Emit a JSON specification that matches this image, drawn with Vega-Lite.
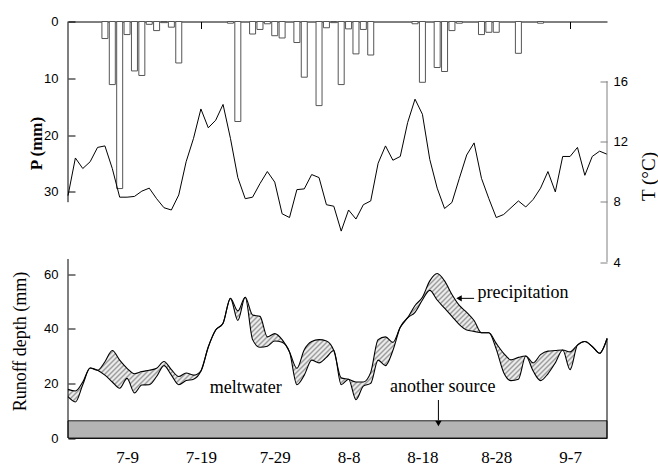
{
"$schema": "https://vega.github.io/schema/vega-lite/v6.json",
"width": 539, "height": 416.5,
"autosize": {"type": "none"},
"padding": {"left": 68, "top": 21.5, "right": 51, "bottom": 28},
"background": "white",
"config": {"view": {"stroke": null}, "axis": {"grid": false, "domainColor": "black", "tickColor": "black", "labelColor": "black", "titleColor": "black", "labelFlush": false}},
"datasets": {"daily": [
{"date":"2007-07-01","P":0,"T":8.4,"hi":17.8,"lo":15.1},
{"date":"2007-07-02","P":0,"T":10.9,"hi":17.2,"lo":13.2},
{"date":"2007-07-03","P":0,"T":10.2,"hi":20.5,"lo":19.5},
{"date":"2007-07-04","P":0,"T":10.65,"hi":25.6,"lo":25.6},
{"date":"2007-07-05","P":0,"T":11.6,"hi":24.8,"lo":24.8},
{"date":"2007-07-06","P":3.0,"T":11.7,"hi":27.9,"lo":23},
{"date":"2007-07-07","P":11.1,"T":10.2,"hi":32.0,"lo":20.5},
{"date":"2007-07-08","P":29.4,"T":8.3,"hi":28.5,"lo":18.2},
{"date":"2007-07-09","P":2.3,"T":8.3,"hi":25.5,"lo":21.8},
{"date":"2007-07-10","P":8.7,"T":8.35,"hi":23.5,"lo":16.5},
{"date":"2007-07-11","P":9.5,"T":8.7,"hi":24.3,"lo":19.4},
{"date":"2007-07-12","P":0.5,"T":8.9,"hi":24.8,"lo":19.5},
{"date":"2007-07-13","P":1.6,"T":8.2,"hi":25.5,"lo":22.5},
{"date":"2007-07-14","P":0.2,"T":7.6,"hi":28.0,"lo":26.5},
{"date":"2007-07-15","P":1.0,"T":7.45,"hi":25.0,"lo":23.0},
{"date":"2007-07-16","P":7.3,"T":8.45,"hi":22.5,"lo":19.5},
{"date":"2007-07-17","P":0,"T":10.65,"hi":23.8,"lo":21.0},
{"date":"2007-07-18","P":0,"T":12.2,"hi":23.0,"lo":21.5},
{"date":"2007-07-19","P":0,"T":14.15,"hi":24.5,"lo":24.5},
{"date":"2007-07-20","P":0,"T":12.9,"hi":33.3,"lo":33.3},
{"date":"2007-07-21","P":0,"T":13.4,"hi":39.5,"lo":39.5},
{"date":"2007-07-22","P":0,"T":14.45,"hi":42.0,"lo":42.0},
{"date":"2007-07-23","P":0.3,"T":12.2,"hi":51.1,"lo":51.1},
{"date":"2007-07-24","P":17.6,"T":9.6,"hi":46.5,"lo":43.0},
{"date":"2007-07-25","P":0,"T":8.2,"hi":51.5,"lo":51.5},
{"date":"2007-07-26","P":2.2,"T":8.3,"hi":45.0,"lo":36.0},
{"date":"2007-07-27","P":1.4,"T":9.2,"hi":44.5,"lo":33.2},
{"date":"2007-07-28","P":0.4,"T":10.0,"hi":37.0,"lo":33.6},
{"date":"2007-07-29","P":2.5,"T":9.3,"hi":38.2,"lo":35.5},
{"date":"2007-07-30","P":2.9,"T":7.2,"hi":36.0,"lo":35.0},
{"date":"2007-07-31","P":0,"T":6.95,"hi":31.5,"lo":31.5},
{"date":"2007-08-01","P":3.7,"T":8.8,"hi":25.5,"lo":19.5},
{"date":"2007-08-02","P":9.8,"T":8.85,"hi":32.3,"lo":23.0},
{"date":"2007-08-03","P":0,"T":9.8,"hi":35.3,"lo":28.5},
{"date":"2007-08-04","P":14.8,"T":9.6,"hi":36.0,"lo":27.5},
{"date":"2007-08-05","P":1.1,"T":7.8,"hi":35.5,"lo":29.5},
{"date":"2007-08-06","P":0.2,"T":7.7,"hi":32.0,"lo":32.0},
{"date":"2007-08-07","P":11.1,"T":6.05,"hi":22.0,"lo":19.5},
{"date":"2007-08-08","P":1.3,"T":7.45,"hi":21.5,"lo":21.5},
{"date":"2007-08-09","P":5.7,"T":6.85,"hi":20.5,"lo":14.0},
{"date":"2007-08-10","P":1.4,"T":7.8,"hi":20.5,"lo":19.0},
{"date":"2007-08-11","P":5.9,"T":8.05,"hi":24.0,"lo":20.0},
{"date":"2007-08-12","P":0,"T":10.55,"hi":36.0,"lo":28.5},
{"date":"2007-08-13","P":0,"T":11.7,"hi":37.0,"lo":26.5},
{"date":"2007-08-14","P":0,"T":10.75,"hi":35.0,"lo":32.0},
{"date":"2007-08-15","P":0,"T":11.0,"hi":40.5,"lo":40.5},
{"date":"2007-08-16","P":0,"T":13.25,"hi":44.0,"lo":44.0},
{"date":"2007-08-17","P":0.4,"T":14.8,"hi":48.5,"lo":46.0},
{"date":"2007-08-18","P":10.7,"T":13.8,"hi":51.5,"lo":50.5},
{"date":"2007-08-19","P":0,"T":10.8,"hi":57.5,"lo":54.0},
{"date":"2007-08-20","P":8.1,"T":8.9,"hi":60.2,"lo":50.5},
{"date":"2007-08-21","P":8.8,"T":7.55,"hi":57.5,"lo":47.5},
{"date":"2007-08-22","P":1.6,"T":7.95,"hi":52.5,"lo":44.5},
{"date":"2007-08-23","P":0.3,"T":9.55,"hi":48.5,"lo":41.5},
{"date":"2007-08-24","P":0,"T":11.1,"hi":46.0,"lo":39.5},
{"date":"2007-08-25","P":0,"T":11.9,"hi":43.0,"lo":39.0},
{"date":"2007-08-26","P":2.3,"T":9.55,"hi":38.5,"lo":38.5},
{"date":"2007-08-27","P":1.9,"T":8.2,"hi":38.5,"lo":38.5},
{"date":"2007-08-28","P":1.9,"T":6.95,"hi":34.6,"lo":32.5},
{"date":"2007-08-29","P":0,"T":7.15,"hi":31.0,"lo":24.0},
{"date":"2007-08-30","P":0,"T":7.6,"hi":28.6,"lo":21.0},
{"date":"2007-08-31","P":5.6,"T":8.05,"hi":29.5,"lo":21.5},
{"date":"2007-09-01","P":0,"T":7.65,"hi":30.0,"lo":30.0},
{"date":"2007-09-02","P":0,"T":8.15,"hi":27.5,"lo":24.5},
{"date":"2007-09-03","P":0.3,"T":8.9,"hi":30.5,"lo":21.0},
{"date":"2007-09-04","P":0,"T":10.0,"hi":31.8,"lo":23.5},
{"date":"2007-09-05","P":0,"T":8.65,"hi":32.0,"lo":27.5},
{"date":"2007-09-06","P":0,"T":11.0,"hi":32.2,"lo":32.2},
{"date":"2007-09-07","P":0,"T":11.0,"hi":31.5,"lo":25.0},
{"date":"2007-09-08","P":0,"T":11.6,"hi":34.0,"lo":34.0},
{"date":"2007-09-09","P":0,"T":9.75,"hi":35.3,"lo":35.3},
{"date":"2007-09-10","P":0,"T":11.0,"hi":33.5,"lo":33.5},
{"date":"2007-09-11","P":0,"T":11.35,"hi":31.0,"lo":31.0},
{"date":"2007-09-12","P":0,"T":11.15,"hi":36.3,"lo":36.3}
]},
"data": {"name": "daily"},
"layer": [
{
 "layer": [
  {"transform": [{"filter": "datum.P > 0"}],
   "mark": {"type": "bar", "width": 6, "fill": "white", "stroke": "#555", "strokeWidth": 1},
   "encoding": {
    "x": {"field": "date", "type": "temporal",
          "scale": {"type": "utc", "padding": 0, "domain": [{"year":2007,"month":7,"date":1,"utc":true},{"year":2007,"month":9,"date":12,"utc":true}]},
          "axis": {"orient": "top", "labels": false, "tickSize": -7, "title": null, "domain": true,
                   "values": [{"year":2007,"month":7,"date":9,"utc":true},{"year":2007,"month":7,"date":19,"utc":true},{"year":2007,"month":7,"date":29,"utc":true},{"year":2007,"month":8,"date":8,"utc":true},{"year":2007,"month":8,"date":18,"utc":true},{"year":2007,"month":8,"date":28,"utc":true},{"year":2007,"month":9,"date":7,"utc":true}]}},
    "y": {"field": "P", "type": "quantitative",
          "scale": {"domain": [0, 73.3], "reverse": true, "nice": false, "zero": false, "padding": 0},
          "axis": {"orient": "left", "values": [0, 10, 20, 30], "domain": false, "tickSize": -7, "labelPadding": 17,
                   "labelFont": "Liberation Sans", "labelFontSize": 13,
                   "title": "P (mm)", "titleFont": "Liberation Serif", "titleFontSize": 17, "titleFontWeight": "bold",
                   "titleAngle": -90, "titleX": -32, "titleY": 121.5, "titleAlign": "center", "titleBaseline": "middle"}}
   }},
  {"data": {"values": [{}]},
   "mark": {"type": "rule", "color": "black", "strokeWidth": 1},
   "encoding": {
    "x": {"datum": {"year":2007,"month":7,"date":1,"utc":true}, "type": "temporal"},
    "y": {"datum": 0}, "y2": {"datum": 31.8}}}
 ]
},
{
 "layer": [
  {"mark": {"type": "line", "color": "black", "strokeWidth": 1},
   "encoding": {
    "x": {"field": "date", "type": "temporal", "axis": null,
          "scale": {"type": "utc", "padding": 0, "domain": [{"year":2007,"month":7,"date":1,"utc":true},{"year":2007,"month":9,"date":12,"utc":true}]}},
    "y": {"field": "T", "type": "quantitative",
          "scale": {"domain": [-7.67, 19.95], "nice": false, "zero": false, "padding": 0},
          "axis": {"orient": "right", "values": [4, 8, 12, 16], "domain": false, "tickSize": -7, "tickColor": "#808080", "labelPadding": 13,
                   "labelFont": "Liberation Sans", "labelFontSize": 13,
                   "title": "T (°C)", "titleFont": "Liberation Serif", "titleFontSize": 19, "titleFontWeight": "normal",
                   "titleAngle": 270, "titleX": 41, "titleY": 154.5, "titleAlign": "center", "titleBaseline": "middle"}}
   }},
  {"data": {"values": [{}]},
   "mark": {"type": "rule", "color": "#808080", "strokeWidth": 1},
   "encoding": {
    "x": {"datum": {"year":2007,"month":9,"date":12,"utc":true}, "type": "temporal"},
    "y": {"datum": 4}, "y2": {"datum": 16}}}
 ]
},
{
 "layer": [
  {"data": {"values": [{}]},
   "mark": {"type": "rect", "fill": "#b4b4b4", "stroke": "#222", "strokeWidth": 1},
   "encoding": {
    "x": {"datum": {"year":2007,"month":7,"date":1,"utc":true}, "type": "temporal"},
    "x2": {"datum": {"year":2007,"month":9,"date":12,"utc":true}},
    "y": {"datum": 0}, "y2": {"datum": 6.3}}},
  {"mark": {"type": "area", "interpolate": "monotone",
            "fill": {"gradient": "linear", "x1": 0, "y1": 0, "x2": 1.7557, "y2": 0.4182, "stops": [
{"offset":0,"color":"#fff"},{"offset":0.0025,"color":"#9c9c9c"},{"offset":0.005,"color":"#fff"},{"offset":0.0075,"color":"#9c9c9c"},
{"offset":0.01,"color":"#fff"},{"offset":0.0125,"color":"#9c9c9c"},{"offset":0.015,"color":"#fff"},{"offset":0.0175,"color":"#9c9c9c"},
{"offset":0.02,"color":"#fff"},{"offset":0.0225,"color":"#9c9c9c"},{"offset":0.025,"color":"#fff"},{"offset":0.0275,"color":"#9c9c9c"},
{"offset":0.03,"color":"#fff"},{"offset":0.0325,"color":"#9c9c9c"},{"offset":0.035,"color":"#fff"},{"offset":0.0375,"color":"#9c9c9c"},
{"offset":0.04,"color":"#fff"},{"offset":0.0425,"color":"#9c9c9c"},{"offset":0.045,"color":"#fff"},{"offset":0.0475,"color":"#9c9c9c"},
{"offset":0.05,"color":"#fff"},{"offset":0.0525,"color":"#9c9c9c"},{"offset":0.055,"color":"#fff"},{"offset":0.0575,"color":"#9c9c9c"},
{"offset":0.06,"color":"#fff"},{"offset":0.0625,"color":"#9c9c9c"},{"offset":0.065,"color":"#fff"},{"offset":0.0675,"color":"#9c9c9c"},
{"offset":0.07,"color":"#fff"},{"offset":0.0725,"color":"#9c9c9c"},{"offset":0.075,"color":"#fff"},{"offset":0.0775,"color":"#9c9c9c"},
{"offset":0.08,"color":"#fff"},{"offset":0.0825,"color":"#9c9c9c"},{"offset":0.085,"color":"#fff"},{"offset":0.0875,"color":"#9c9c9c"},
{"offset":0.09,"color":"#fff"},{"offset":0.0925,"color":"#9c9c9c"},{"offset":0.095,"color":"#fff"},{"offset":0.0975,"color":"#9c9c9c"},
{"offset":0.10,"color":"#fff"},{"offset":0.1025,"color":"#9c9c9c"},{"offset":0.105,"color":"#fff"},{"offset":0.1075,"color":"#9c9c9c"},
{"offset":0.11,"color":"#fff"},{"offset":0.1125,"color":"#9c9c9c"},{"offset":0.115,"color":"#fff"},{"offset":0.1175,"color":"#9c9c9c"},
{"offset":0.12,"color":"#fff"},{"offset":0.1225,"color":"#9c9c9c"},{"offset":0.125,"color":"#fff"},{"offset":0.1275,"color":"#9c9c9c"},
{"offset":0.13,"color":"#fff"},{"offset":0.1325,"color":"#9c9c9c"},{"offset":0.135,"color":"#fff"},{"offset":0.1375,"color":"#9c9c9c"},
{"offset":0.14,"color":"#fff"},{"offset":0.1425,"color":"#9c9c9c"},{"offset":0.145,"color":"#fff"},{"offset":0.1475,"color":"#9c9c9c"},
{"offset":0.15,"color":"#fff"},{"offset":0.1525,"color":"#9c9c9c"},{"offset":0.155,"color":"#fff"},{"offset":0.1575,"color":"#9c9c9c"},
{"offset":0.16,"color":"#fff"},{"offset":0.1625,"color":"#9c9c9c"},{"offset":0.165,"color":"#fff"},{"offset":0.1675,"color":"#9c9c9c"},
{"offset":0.17,"color":"#fff"},{"offset":0.1725,"color":"#9c9c9c"},{"offset":0.175,"color":"#fff"},{"offset":0.1775,"color":"#9c9c9c"},
{"offset":0.18,"color":"#fff"},{"offset":0.1825,"color":"#9c9c9c"},{"offset":0.185,"color":"#fff"},{"offset":0.1875,"color":"#9c9c9c"},
{"offset":0.19,"color":"#fff"},{"offset":0.1925,"color":"#9c9c9c"},{"offset":0.195,"color":"#fff"},{"offset":0.1975,"color":"#9c9c9c"},
{"offset":0.20,"color":"#fff"},{"offset":0.2025,"color":"#9c9c9c"},{"offset":0.205,"color":"#fff"},{"offset":0.2075,"color":"#9c9c9c"},
{"offset":0.21,"color":"#fff"},{"offset":0.2125,"color":"#9c9c9c"},{"offset":0.215,"color":"#fff"},{"offset":0.2175,"color":"#9c9c9c"},
{"offset":0.22,"color":"#fff"},{"offset":0.2225,"color":"#9c9c9c"},{"offset":0.225,"color":"#fff"},{"offset":0.2275,"color":"#9c9c9c"},
{"offset":0.23,"color":"#fff"},{"offset":0.2325,"color":"#9c9c9c"},{"offset":0.235,"color":"#fff"},{"offset":0.2375,"color":"#9c9c9c"},
{"offset":0.24,"color":"#fff"},{"offset":0.2425,"color":"#9c9c9c"},{"offset":0.245,"color":"#fff"},{"offset":0.2475,"color":"#9c9c9c"},
{"offset":0.25,"color":"#fff"},{"offset":0.2525,"color":"#9c9c9c"},{"offset":0.255,"color":"#fff"},{"offset":0.2575,"color":"#9c9c9c"},
{"offset":0.26,"color":"#fff"},{"offset":0.2625,"color":"#9c9c9c"},{"offset":0.265,"color":"#fff"},{"offset":0.2675,"color":"#9c9c9c"},
{"offset":0.27,"color":"#fff"},{"offset":0.2725,"color":"#9c9c9c"},{"offset":0.275,"color":"#fff"},{"offset":0.2775,"color":"#9c9c9c"},
{"offset":0.28,"color":"#fff"},{"offset":0.2825,"color":"#9c9c9c"},{"offset":0.285,"color":"#fff"},{"offset":0.2875,"color":"#9c9c9c"},
{"offset":0.29,"color":"#fff"},{"offset":0.2925,"color":"#9c9c9c"},{"offset":0.295,"color":"#fff"},{"offset":0.2975,"color":"#9c9c9c"},
{"offset":0.30,"color":"#fff"},{"offset":0.3025,"color":"#9c9c9c"},{"offset":0.305,"color":"#fff"},{"offset":0.3075,"color":"#9c9c9c"},
{"offset":0.31,"color":"#fff"},{"offset":0.3125,"color":"#9c9c9c"},{"offset":0.315,"color":"#fff"},{"offset":0.3175,"color":"#9c9c9c"},
{"offset":0.32,"color":"#fff"},{"offset":0.3225,"color":"#9c9c9c"},{"offset":0.325,"color":"#fff"},{"offset":0.3275,"color":"#9c9c9c"},
{"offset":0.33,"color":"#fff"},{"offset":0.3325,"color":"#9c9c9c"},{"offset":0.335,"color":"#fff"},{"offset":0.3375,"color":"#9c9c9c"},
{"offset":0.34,"color":"#fff"},{"offset":0.3425,"color":"#9c9c9c"},{"offset":0.345,"color":"#fff"},{"offset":0.3475,"color":"#9c9c9c"},
{"offset":0.35,"color":"#fff"},{"offset":0.3525,"color":"#9c9c9c"},{"offset":0.355,"color":"#fff"},{"offset":0.3575,"color":"#9c9c9c"},
{"offset":0.36,"color":"#fff"},{"offset":0.3625,"color":"#9c9c9c"},{"offset":0.365,"color":"#fff"},{"offset":0.3675,"color":"#9c9c9c"},
{"offset":0.37,"color":"#fff"},{"offset":0.3725,"color":"#9c9c9c"},{"offset":0.375,"color":"#fff"},{"offset":0.3775,"color":"#9c9c9c"},
{"offset":0.38,"color":"#fff"},{"offset":0.3825,"color":"#9c9c9c"},{"offset":0.385,"color":"#fff"},{"offset":0.3875,"color":"#9c9c9c"},
{"offset":0.39,"color":"#fff"},{"offset":0.3925,"color":"#9c9c9c"},{"offset":0.395,"color":"#fff"},{"offset":0.3975,"color":"#9c9c9c"},
{"offset":0.40,"color":"#fff"},{"offset":0.4025,"color":"#9c9c9c"},{"offset":0.405,"color":"#fff"},{"offset":0.4075,"color":"#9c9c9c"},
{"offset":0.41,"color":"#fff"},{"offset":0.4125,"color":"#9c9c9c"},{"offset":0.415,"color":"#fff"},{"offset":0.4175,"color":"#9c9c9c"},
{"offset":0.42,"color":"#fff"},{"offset":0.4225,"color":"#9c9c9c"},{"offset":0.425,"color":"#fff"},{"offset":0.4275,"color":"#9c9c9c"},
{"offset":0.43,"color":"#fff"},{"offset":0.4325,"color":"#9c9c9c"},{"offset":0.435,"color":"#fff"},{"offset":0.4375,"color":"#9c9c9c"},
{"offset":0.44,"color":"#fff"},{"offset":0.4425,"color":"#9c9c9c"},{"offset":0.445,"color":"#fff"},{"offset":0.4475,"color":"#9c9c9c"},
{"offset":0.45,"color":"#fff"},{"offset":0.4525,"color":"#9c9c9c"},{"offset":0.455,"color":"#fff"},{"offset":0.4575,"color":"#9c9c9c"},
{"offset":0.46,"color":"#fff"},{"offset":0.4625,"color":"#9c9c9c"},{"offset":0.465,"color":"#fff"},{"offset":0.4675,"color":"#9c9c9c"},
{"offset":0.47,"color":"#fff"},{"offset":0.4725,"color":"#9c9c9c"},{"offset":0.475,"color":"#fff"},{"offset":0.4775,"color":"#9c9c9c"},
{"offset":0.48,"color":"#fff"},{"offset":0.4825,"color":"#9c9c9c"},{"offset":0.485,"color":"#fff"},{"offset":0.4875,"color":"#9c9c9c"},
{"offset":0.49,"color":"#fff"},{"offset":0.4925,"color":"#9c9c9c"},{"offset":0.495,"color":"#fff"},{"offset":0.4975,"color":"#9c9c9c"},
{"offset":0.50,"color":"#fff"},{"offset":0.5025,"color":"#9c9c9c"},{"offset":0.505,"color":"#fff"},{"offset":0.5075,"color":"#9c9c9c"},
{"offset":0.51,"color":"#fff"},{"offset":0.5125,"color":"#9c9c9c"},{"offset":0.515,"color":"#fff"},{"offset":0.5175,"color":"#9c9c9c"},
{"offset":0.52,"color":"#fff"},{"offset":0.5225,"color":"#9c9c9c"},{"offset":0.525,"color":"#fff"},{"offset":0.5275,"color":"#9c9c9c"},
{"offset":0.53,"color":"#fff"},{"offset":0.5325,"color":"#9c9c9c"},{"offset":0.535,"color":"#fff"},{"offset":0.5375,"color":"#9c9c9c"},
{"offset":0.54,"color":"#fff"},{"offset":0.5425,"color":"#9c9c9c"},{"offset":0.545,"color":"#fff"},{"offset":0.5475,"color":"#9c9c9c"},
{"offset":0.55,"color":"#fff"},{"offset":0.5525,"color":"#9c9c9c"},{"offset":0.555,"color":"#fff"},{"offset":0.5575,"color":"#9c9c9c"},
{"offset":0.56,"color":"#fff"},{"offset":0.5625,"color":"#9c9c9c"},{"offset":0.565,"color":"#fff"},{"offset":0.5675,"color":"#9c9c9c"},
{"offset":0.57,"color":"#fff"},{"offset":0.5725,"color":"#9c9c9c"},{"offset":0.575,"color":"#fff"},{"offset":0.5775,"color":"#9c9c9c"},
{"offset":0.58,"color":"#fff"},{"offset":0.5825,"color":"#9c9c9c"},{"offset":0.585,"color":"#fff"},{"offset":0.5875,"color":"#9c9c9c"},
{"offset":0.59,"color":"#fff"},{"offset":0.5925,"color":"#9c9c9c"},{"offset":0.595,"color":"#fff"},{"offset":0.5975,"color":"#9c9c9c"},
{"offset":0.60,"color":"#fff"},{"offset":0.6025,"color":"#9c9c9c"},{"offset":0.605,"color":"#fff"},{"offset":0.6075,"color":"#9c9c9c"},
{"offset":0.61,"color":"#fff"},{"offset":0.6125,"color":"#9c9c9c"},{"offset":0.615,"color":"#fff"},{"offset":0.6175,"color":"#9c9c9c"},
{"offset":0.62,"color":"#fff"},{"offset":0.6225,"color":"#9c9c9c"},{"offset":0.625,"color":"#fff"},{"offset":0.6275,"color":"#9c9c9c"},
{"offset":0.63,"color":"#fff"},{"offset":0.6325,"color":"#9c9c9c"},{"offset":0.635,"color":"#fff"},{"offset":0.6375,"color":"#9c9c9c"},
{"offset":0.64,"color":"#fff"},{"offset":0.6425,"color":"#9c9c9c"},{"offset":0.645,"color":"#fff"},{"offset":0.6475,"color":"#9c9c9c"},
{"offset":0.65,"color":"#fff"},{"offset":0.6525,"color":"#9c9c9c"},{"offset":0.655,"color":"#fff"},{"offset":0.6575,"color":"#9c9c9c"},
{"offset":0.66,"color":"#fff"},{"offset":0.6625,"color":"#9c9c9c"},{"offset":0.665,"color":"#fff"},{"offset":0.6675,"color":"#9c9c9c"},
{"offset":0.67,"color":"#fff"}
            ]}},
   "encoding": {
    "x": {"field": "date", "type": "temporal",
          "scale": {"type": "utc", "padding": 0, "domain": [{"year":2007,"month":7,"date":1,"utc":true},{"year":2007,"month":9,"date":12,"utc":true}]},
          "axis": {"orient": "bottom", "tickSize": -6, "labelPadding": 17, "title": null,
                   "labelFont": "Liberation Serif", "labelFontSize": 17,
                   "labelExpr": "utcFormat(datum.value, '%-m-%-d')",
                   "values": [{"year":2007,"month":7,"date":9,"utc":true},{"year":2007,"month":7,"date":19,"utc":true},{"year":2007,"month":7,"date":29,"utc":true},{"year":2007,"month":8,"date":8,"utc":true},{"year":2007,"month":8,"date":18,"utc":true},{"year":2007,"month":8,"date":28,"utc":true},{"year":2007,"month":9,"date":7,"utc":true}]}},
    "y": {"field": "hi", "type": "quantitative",
          "scale": {"domain": [0, 152.4], "nice": false, "zero": false, "padding": 0},
          "axis": {"orient": "left", "values": [0, 20, 40, 60], "domain": false, "tickSize": -7, "labelPadding": 17,
                   "labelFont": "Liberation Sans", "labelFontSize": 13,
                   "title": "Runoff depth (mm)", "titleFont": "Liberation Serif", "titleFontSize": 18, "titleFontWeight": "normal",
                   "titleAngle": -90, "titleX": -48, "titleY": 319.5, "titleAlign": "center", "titleBaseline": "middle"}},
    "y2": {"field": "lo"}
   }},
  {"mark": {"type": "line", "color": "black", "strokeWidth": 1.1, "interpolate": "monotone"},
   "encoding": {
    "x": {"field": "date", "type": "temporal"},
    "y": {"field": "hi", "type": "quantitative"}}},
  {"mark": {"type": "line", "color": "black", "strokeWidth": 1.1, "interpolate": "monotone"},
   "encoding": {
    "x": {"field": "date", "type": "temporal"},
    "y": {"field": "lo", "type": "quantitative"}}},
  {"data": {"values": [{}]},
   "mark": {"type": "rule", "color": "black", "strokeWidth": 1},
   "encoding": {
    "x": {"datum": {"year":2007,"month":9,"date":12,"utc":true}, "type": "temporal"},
    "y": {"datum": 0}, "y2": {"datum": 36.6}}},
  {"data": {"values": [{}]},
   "mark": {"type": "rule", "color": "black", "strokeWidth": 1},
   "encoding": {
    "x": {"datum": {"year":2007,"month":7,"date":1,"utc":true}, "type": "temporal"},
    "y": {"datum": 0}, "y2": {"datum": 65.5}}},
  {"data": {"values": [{}]},
   "mark": {"type": "text", "font": "Liberation Serif", "fontSize": 18, "align": "center", "baseline": "alphabetic", "color": "black"},
   "encoding": {
    "x": {"datum": {"year":2007,"month":7,"date":25,"hours":2,"utc":true}, "type": "temporal"},
    "y": {"datum": 16.4},
    "text": {"value": "meltwater"}}},
  {"data": {"values": [{}]},
   "mark": {"type": "text", "font": "Liberation Serif", "fontSize": 18, "align": "center", "baseline": "alphabetic", "color": "black"},
   "encoding": {
    "x": {"datum": {"year":2007,"month":8,"date":20,"hours":18,"utc":true}, "type": "temporal"},
    "y": {"datum": 16.9},
    "text": {"value": "another source"}}},
  {"data": {"values": [{}]},
   "mark": {"type": "text", "font": "Liberation Serif", "fontSize": 18, "align": "left", "baseline": "alphabetic", "color": "black"},
   "encoding": {
    "x": {"datum": {"year":2007,"month":8,"date":25,"hours":11,"utc":true}, "type": "temporal"},
    "y": {"datum": 51.1},
    "text": {"value": "precipitation"}}},
  {"data": {"values": [{}]},
   "mark": {"type": "rule", "color": "black", "strokeWidth": 1},
   "encoding": {
    "x": {"datum": {"year":2007,"month":8,"date":23,"utc":true}, "type": "temporal"},
    "x2": {"datum": {"year":2007,"month":8,"date":25,"utc":true}},
    "y": {"datum": 51.1}}},
  {"data": {"values": [{}]},
   "mark": {"type": "point", "shape": "triangle-left", "filled": true, "color": "black", "opacity": 1, "size": 40},
   "encoding": {
    "x": {"datum": {"year":2007,"month":8,"date":22,"hours":23,"utc":true}, "type": "temporal"},
    "y": {"datum": 51.1}}},
  {"data": {"values": [{}]},
   "mark": {"type": "rule", "color": "black", "strokeWidth": 1},
   "encoding": {
    "x": {"datum": {"year":2007,"month":8,"date":20,"hours":4,"utc":true}, "type": "temporal"},
    "y": {"datum": 13.9}, "y2": {"datum": 6.5}}},
  {"data": {"values": [{}]},
   "mark": {"type": "point", "shape": "triangle-down", "filled": true, "color": "black", "opacity": 1, "size": 40},
   "encoding": {
    "x": {"datum": {"year":2007,"month":8,"date":20,"hours":4,"utc":true}, "type": "temporal"},
    "y": {"datum": 5.3}}}
 ]
}
],
"resolve": {"scale": {"y": "independent"}, "axis": {"x": "independent"}}
}
